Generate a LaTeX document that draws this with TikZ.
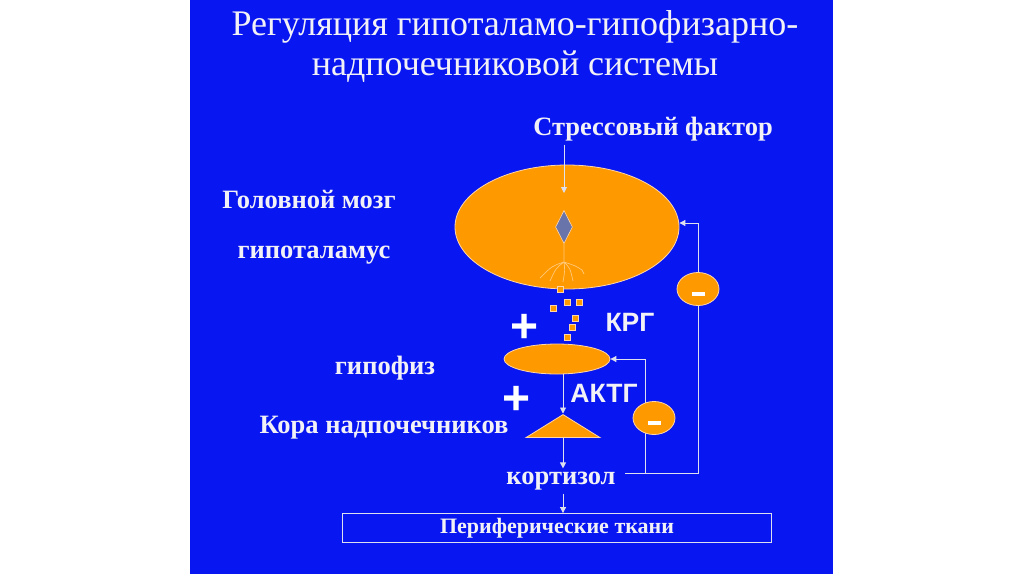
\documentclass[tikz,border=0pt]{standalone}
\usepackage{fontspec}
\setmainfont{Liberation Serif}
\newfontfamily\labelfont{Liberation Sans}
\usetikzlibrary{shapes.geometric,arrows.meta,positioning}

\definecolor{slideblue}{RGB}{8,22,242}
\definecolor{organfill}{RGB}{255,153,0}
\definecolor{organrim}{RGB}{255,214,170}
\definecolor{wirecol}{RGB}{222,224,238}
\definecolor{textcol}{RGB}{242,242,246}
\definecolor{cellcol}{RGB}{104,116,170}
\definecolor{rootcol}{RGB}{255,200,120}

\tikzset{
  organ/.style={ellipse, fill=organfill, draw=organrim, line width=0.8pt, inner sep=0pt},
  inhib/.style={organ, minimum width=42, minimum height=33,
    path picture={\draw[white, line width=3.5pt]
      ([xshift=-6.5pt,yshift=-5pt]path picture bounding box.center) -- ++(13,0);}},
  tag/.style={text=textcol, font=\bfseries\fontsize{26.5}{30}\selectfont},
  hormone/.style={text=textcol, font=\labelfont\bfseries\fontsize{26.5}{30}\selectfont},
  sign/.style={text=white, font=\labelfont\bfseries\fontsize{48}{48}\selectfont, inner sep=0pt},
  crgdot/.style={rectangle, fill=organfill, draw=organrim, line width=0.4pt,
    minimum size=6, inner sep=0pt},
  wire/.style={draw=wirecol, line width=0.9pt},
  flow/.style={wire, -{Triangle[length=6pt,width=6pt]}},
}

\begin{document}
\begin{tikzpicture}[x=1pt,y=-1pt]
  % slide background
  \fill[white] (0,0) rectangle (1024,574);
  \fill[slideblue] (190,0) rectangle (833,574);

  % title
  \node[text=textcol, align=center, font=\fontsize{36}{40}\selectfont] (title) at (515,46)
    {Регуляция гипоталамо-гипофизарно-\\надпочечниковой системы};

  % brain and hypothalamus
  \node[tag] (stress) at (653,129) {Стрессовый фактор};
  \node[organ, minimum width=224, minimum height=124] (brain) at (567,227) {};
  \node[diamond, fill=cellcol, draw=organrim, line width=0.6pt, inner sep=0pt,
    minimum width=17, minimum height=33] (cell) at (564,227) {};
  \coordinate (stressin) at (564,193);
  \coordinate (fork) at (564,262);
  \draw[flow] (stress.south -| cell) -- (stressin);
  \draw[rootcol, line width=0.7pt] (cell.south) -- (fork)
    (fork) .. controls (552,266) .. (540,278)
    (fork) .. controls (556,268) .. (550,281)
    (fork) .. controls (565,270) .. (563,282)
    (fork) .. controls (570,268) .. (573,281)
    (fork) .. controls (576,266) .. (582,270) -- (584,274);
  \node[tag] (brainlbl) at (309,199) {Головной мозг};
  \node[tag] (hypolbl) at (314,255) {гипоталамус};

  % CRH granules
  \foreach \gx/\gy [count=\i] in {560/289, 553/308, 567/302, 579/302, 575/318, 572/327, 567/337}
    \node[crgdot] (crg\i) at (\gx,\gy) {};
  \node[hormone] (crh) at (630,322) {КРГ};
  \node[sign] (plusa) at (525,328) {+};

  % pituitary
  \node[organ, minimum width=106, minimum height=30] (pituitary) at (557,359) {};
  \node[tag] (pitlbl) at (385,368) {гипофиз};
  \node[hormone] (acth) at (604,393) {АКТГ};
  \node[sign] (plusb) at (517,400) {+};

  % adrenal cortex
  \node[isosceles triangle, shape border rotate=90, isosceles triangle stretches,
    fill=organfill, draw=organrim, line width=0.8pt, inner sep=0pt,
    minimum width=74, minimum height=23] (adrenal) at (563,427) {};
  \node[tag] (adrlbl) at (384,428) {Кора надпочечников};
  \draw[flow] (pituitary.south -| adrenal.apex) -- (adrenal.apex);

  % cortisol and target
  \node[tag] (cortisol) at (561,481) {кортизол};
  \draw[flow] (adrenal.south) -- (cortisol.north -| adrenal.south);
  \node[wire, minimum width=429, minimum height=29, inner sep=0pt, text=textcol,
    font=\bfseries\fontsize{22}{24}\selectfont] (tissue) at (557,528) {Периферические ткани};
  \draw[flow] (cortisol.south -| adrenal.south) -- (tissue.north -| adrenal.south);

  % negative feedback
  \coordinate (outerturn) at (698,223);
  \coordinate (innerfoot) at (645,473);
  \draw[flow] ([xshift=6pt]cortisol.east |- innerfoot) -| (outerturn) -- (brain.east |- outerturn);
  \draw[flow] (innerfoot) |- (pituitary.east);
  \node[inhib] (inhiba) at (698,289) {};
  \node[inhib] (inhibb) at (654,418) {};
\end{tikzpicture}
\end{document}
